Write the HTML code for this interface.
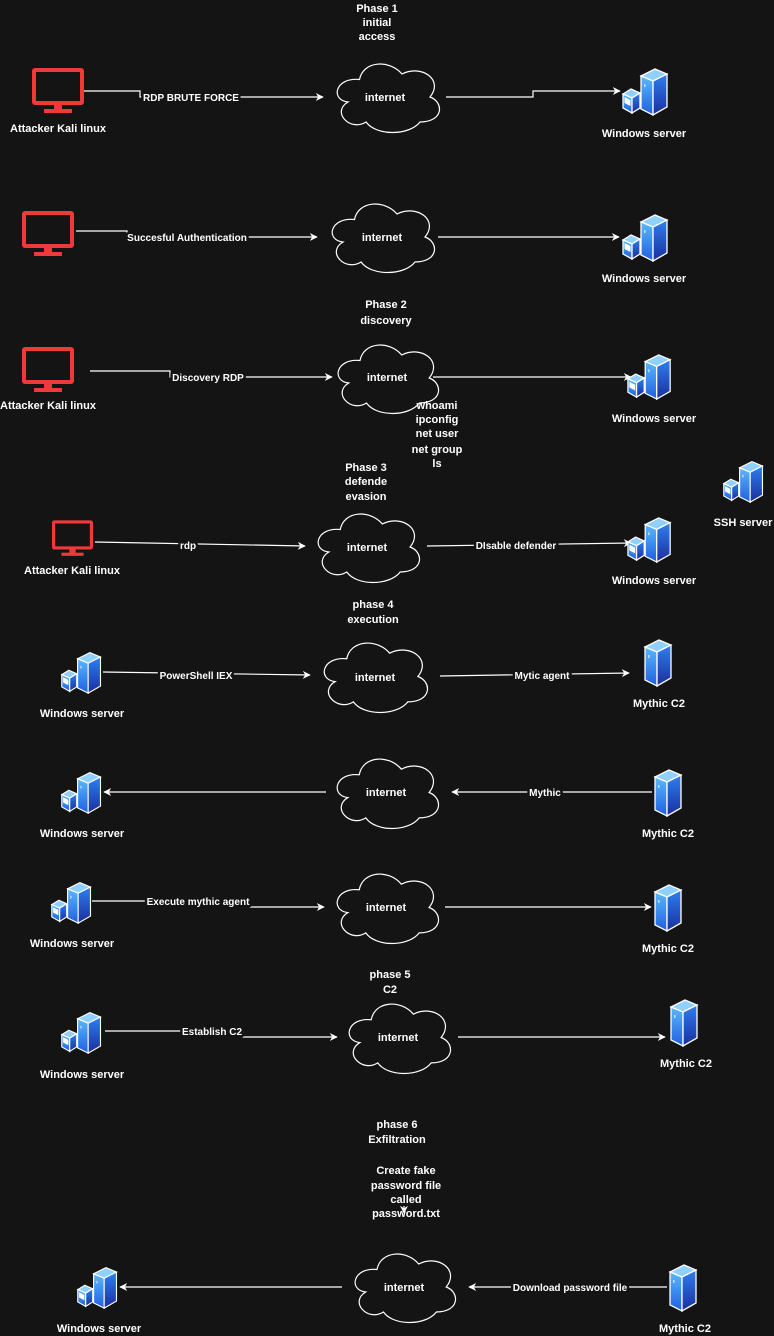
<!DOCTYPE html>
<html><head><meta charset="utf-8"><style>
html,body{margin:0;padding:0;background:#141414;}
svg{display:block}
text{font-family:"Liberation Sans",Arial,sans-serif;font-size:11px;font-weight:bold;fill:#fff;text-anchor:middle}
.lb{font-size:10px;stroke:#141414;stroke-width:5;paint-order:stroke;stroke-linejoin:round}
.ln{stroke:#fff;stroke-width:1.2;fill:none}
</style></head><body>
<svg width="774" height="1336" viewBox="0 0 774 1336" xmlns="http://www.w3.org/2000/svg">
<defs>
<marker id="ar" viewBox="0 0 10 10" refX="9" refY="5" markerWidth="8" markerHeight="8" orient="auto" markerUnits="userSpaceOnUse">
<path d="M0,0 L10,5 L0,10 L3,5 Z" fill="#fff"/></marker>
<symbol id="cloud" viewBox="0 0 110 70" preserveAspectRatio="none" overflow="visible">
<path d="M27.5 17.5 C3 15 -2 38 16 40 C-1 50 18 70 34.1 60 C44 74 77 74 88 60 C112 60 112 40 98 35 C112 18 90 2 70 12 C57 -3 31 -1 27.5 17.5 Z" fill="#141414" stroke="#fff" stroke-width="1.2"/>
</symbol>
<linearGradient id="gf" x1="0" y1="0" x2="0" y2="1"><stop offset="0" stop-color="#5ab8ff"/><stop offset="1" stop-color="#1f5fe0"/></linearGradient>
<linearGradient id="gr" x1="0" y1="0" x2="0" y2="1"><stop offset="0" stop-color="#2f7ff0"/><stop offset="1" stop-color="#1a2e9c"/></linearGradient>
<symbol id="tower" viewBox="0 0 30 50" overflow="visible">
<polygon points="2,10 16,3 28,8 14,15" fill="#8fd0ff" stroke="#fff" stroke-width="1.3"/>
<polygon points="2,10 14,15 14,49 2,43" fill="url(#gf)" stroke="#fff" stroke-width="1.3"/>
<polygon points="14,15 28,8 28,41 14,49" fill="url(#gr)" stroke="#fff" stroke-width="1.3"/>
<rect x="5" y="18" width="1.5" height="3" fill="#cde"/>
</symbol>
<symbol id="server" viewBox="0 0 50 50" overflow="visible">
<use href="#tower" x="18" y="0" width="30" height="50"/>
<polygon points="2,28 10,23 19,27 11,32" fill="#8fd0ff" stroke="#fff" stroke-width="1.3"/>
<polygon points="2,28 11,32 11,47 2,42" fill="url(#gf)" stroke="#fff" stroke-width="1.3"/>
<polygon points="11,32 19,27 19,42 11,47" fill="url(#gr)" stroke="#fff" stroke-width="1.3"/>
<polygon points="3.5,31 9.5,34 9.5,40 3.5,37" fill="#fff"/>
</symbol>
<symbol id="mon" viewBox="0 0 52 46" overflow="visible">
<rect x="2" y="2" width="48" height="33" fill="#141414" stroke="#f03a3a" stroke-width="4" rx="1"/>
<rect x="22" y="36" width="8" height="6" fill="#f03a3a"/>
<rect x="12" y="41" width="28" height="4" fill="#f03a3a"/>
</symbol>
</defs>

<!-- Phase 1 -->
<text x="377" y="12">Phase 1</text><text x="377" y="26">initial</text><text x="377" y="40">access</text>
<use href="#mon" x="32" y="68" width="52" height="46"/>
<text x="58" y="132">Attacker Kali linux</text>
<path class="ln" d="M84 91 H140 V97 H323" marker-end="url(#ar)"/>
<text class="lb" x="191" y="101">RDP BRUTE FORCE</text>
<use href="#cloud" x="332" y="62" width="110" height="70"/>
<text x="385" y="101">internet</text>
<path class="ln" d="M446 97 H533 V91 H620" marker-end="url(#ar)"/>
<use href="#server" x="621" y="66" width="50" height="50"/>
<text x="644" y="137">Windows server</text>

<!-- row 2 -->
<use href="#mon" x="22" y="211" width="52" height="46"/>
<path class="ln" d="M76 231 H127 V237 H317" marker-end="url(#ar)"/>
<text class="lb" x="187" y="241">Succesful Authentication</text>
<use href="#cloud" x="327" y="202" width="110" height="70"/>
<text x="382" y="241">internet</text>
<path class="ln" d="M438 237 H619" marker-end="url(#ar)"/>
<use href="#server" x="621" y="212" width="50" height="50"/>
<text x="644" y="282">Windows server</text>

<!-- Phase 2 -->
<text x="386" y="308">Phase 2</text><text x="386" y="324">discovery</text>
<use href="#mon" x="22" y="347" width="52" height="46"/>
<text x="48" y="409">Attacker Kali linux</text>
<path class="ln" d="M90 371 H170 V377 H332" marker-end="url(#ar)"/>
<text class="lb" x="208" y="381">Discovery RDP</text>
<use href="#cloud" x="333" y="343" width="108" height="70"/>
<text x="387" y="381">internet</text>
<path class="ln" d="M433 377 H631" marker-end="url(#ar)"/>
<use href="#server" x="626" y="352" width="48" height="48"/>
<text x="654" y="422">Windows server</text>
<text x="437" y="409">whoami</text><text x="437" y="423">ipconfig</text><text x="437" y="437">net user</text><text x="437" y="453">net group</text><text x="437" y="467">ls</text>
<use href="#server" x="722" y="457" width="44" height="48"/>
<text x="743" y="526">SSH server</text>

<!-- Phase 3 -->
<text x="366" y="471">Phase 3</text><text x="366" y="485">defende</text><text x="366" y="500">evasion</text>
<use href="#mon" x="52" y="520" width="41" height="37"/>
<text x="72" y="574">Attacker Kali linux</text>
<path class="ln" d="M95 542 L305 546" marker-end="url(#ar)"/>
<text class="lb" x="188" y="549">rdp</text>
<use href="#cloud" x="313" y="512" width="109" height="70"/>
<text x="367" y="551">internet</text>
<path class="ln" d="M427 546 L631 543" marker-end="url(#ar)"/>
<text class="lb" x="516" y="549">DIsable defender</text>
<use href="#server" x="626" y="515" width="48" height="48"/>
<text x="654" y="584">Windows server</text>

<!-- Phase 4 -->
<text x="373" y="608">phase 4</text><text x="373" y="623">execution</text>
<use href="#server" x="60" y="647" width="44" height="50"/>
<text x="82" y="717">Windows server</text>
<path class="ln" d="M103 672 L310 675" marker-end="url(#ar)"/>
<text class="lb" x="196" y="679">PowerShell IEX</text>
<use href="#cloud" x="319" y="641" width="111" height="71"/>
<text x="375" y="681">internet</text>
<path class="ln" d="M440 676 L629 673" marker-end="url(#ar)"/>
<text class="lb" x="542" y="679">Mytic agent</text>
<use href="#tower" x="643" y="637" width="30" height="50"/>
<text x="659" y="707">Mythic C2</text>

<!-- row 6 -->
<use href="#server" x="60" y="767" width="44" height="50"/>
<text x="82" y="837">Windows server</text>
<path class="ln" d="M326 792 H104" marker-end="url(#ar)"/>
<use href="#cloud" x="332" y="757" width="109" height="71"/>
<text x="386" y="796">internet</text>
<path class="ln" d="M652 792 H452" marker-end="url(#ar)"/>
<text class="lb" x="545" y="796">Mythic</text>
<use href="#tower" x="653" y="767" width="30" height="50"/>
<text x="668" y="837">Mythic C2</text>

<!-- row 7 -->
<use href="#server" x="50" y="877" width="44" height="50"/>
<text x="72" y="947">Windows server</text>
<path class="ln" d="M92 901 H250 V907 H324" marker-end="url(#ar)"/>
<text class="lb" x="198" y="905">Execute mythic agent</text>
<use href="#cloud" x="332" y="872" width="109" height="71"/>
<text x="386" y="911">internet</text>
<path class="ln" d="M445 907 H651" marker-end="url(#ar)"/>
<use href="#tower" x="653" y="882" width="30" height="50"/>
<text x="668" y="952">Mythic C2</text>

<!-- Phase 5 -->
<text x="390" y="978">phase 5</text><text x="390" y="993">C2</text>
<use href="#server" x="60" y="1007" width="44" height="50"/>
<text x="82" y="1078">Windows server</text>
<path class="ln" d="M105 1031 H243 V1037 H337" marker-end="url(#ar)"/>
<text class="lb" x="212" y="1035">Establish C2</text>
<use href="#cloud" x="344" y="1002" width="109" height="71"/>
<text x="398" y="1041">internet</text>
<path class="ln" d="M458 1037 H665" marker-end="url(#ar)"/>
<use href="#tower" x="669" y="997" width="30" height="50"/>
<text x="686" y="1067">Mythic C2</text>

<!-- Phase 6 -->
<text x="397" y="1128">phase 6</text><text x="397" y="1143">Exfiltration</text>
<text x="406" y="1174">Create fake</text><text x="406" y="1189">password file</text><text x="406" y="1203">called</text><text x="406" y="1217">password.txt</text>
<path class="ln" d="M404 1206 V1213" marker-end="url(#ar)"/>
<use href="#server" x="76" y="1262" width="44" height="50"/>
<text x="99" y="1332">Windows server</text>
<path class="ln" d="M342 1287 H120" marker-end="url(#ar)"/>
<use href="#cloud" x="350" y="1252" width="108" height="70"/>
<text x="404" y="1291">internet</text>
<path class="ln" d="M667 1287 H469" marker-end="url(#ar)"/>
<text class="lb" x="570" y="1291">Download password file</text>
<use href="#tower" x="668" y="1262" width="30" height="50"/>
<text x="685" y="1332">Mythic C2</text>
</svg>
</body></html>
